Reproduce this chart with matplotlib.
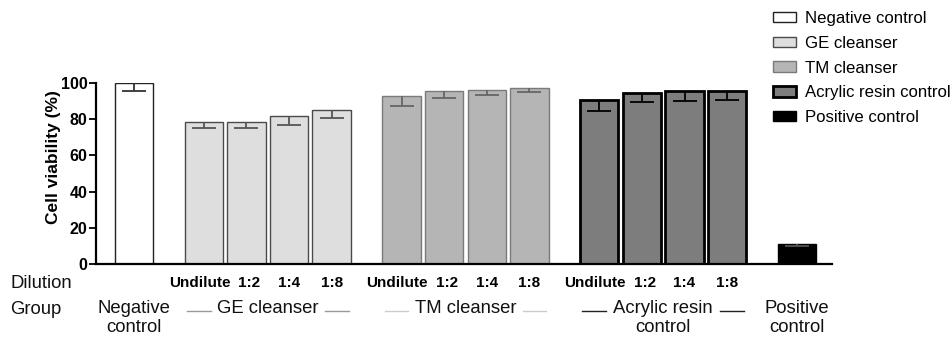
import matplotlib
matplotlib.use("Agg")
import matplotlib.pyplot as plt
from matplotlib.patches import Patch
from matplotlib.lines import Line2D
from matplotlib.transforms import blended_transform_factory

# data
groups = ["Negative control", "GE cleanser", "TM cleanser", "Acrylic resin control", "Positive control"]
dilutions = ["Undilute", "1:2", "1:4", "1:8"]
neg_val, neg_err = [100.0], [4.5]
ge_vals = [78.6, 78.6, 81.9, 84.9]
ge_errs = [3.6, 3.6, 5.3, 4.2]
tm_vals = [93.0, 95.4, 96.3, 97.0]
tm_errs = [5.5, 3.7, 2.8, 2.1]
ac_vals = [90.4, 94.5, 95.8, 95.4]
ac_errs = [5.7, 4.8, 5.6, 5.0]
pos_val, pos_err = [10.9], [0.8]

GAP = 1.64
plt.rcParams["font.family"] = ["Liberation Sans", "DejaVu Sans"]

fig = plt.figure(figsize=(9.52, 3.4), dpi=100)
ax = fig.add_axes([96 / 952, 1 - 264 / 340, (832 - 96) / 952, 181 / 340])

styles = [
    dict(fc="white", ec="#222222", lw=1.0, ecol="#333333"),
    dict(fc="#DEDEDE", ec="#4a4a4a", lw=1.0, ecol="#555555"),
    dict(fc="#B5B5B5", ec="#7a7a7a", lw=1.0, ecol="#666666"),
    dict(fc="#7D7D7D", ec="black", lw=2.0, ecol="black"),
    dict(fc="black", ec="black", lw=1.0, ecol="#555555"),
]
series = [(neg_val, neg_err), (ge_vals, ge_errs), (tm_vals, tm_errs), (ac_vals, ac_errs), (pos_val, pos_err)]

start = 0.0
centers = []
all_pos = []
for (vals, errs), st in zip(series, styles):
    xs = [start + i for i in range(len(vals))]
    all_pos.append(xs)
    ax.bar(xs, vals, width=0.9, color=st["fc"], edgecolor=st["ec"], linewidth=st["lw"], zorder=2)
    eb = ax.errorbar(xs, vals, yerr=[errs, [0] * len(errs)], fmt="none", ecolor=st["ecol"],
                     elinewidth=1.3, capsize=8.6, capthick=1.3, zorder=3)
    # lower-only error bars: hide the cap sitting on the bar top
    if len(eb[1]) > 1:
        eb[1][1].set_visible(False)
    centers.append((xs[0] + xs[-1]) / 2)
    start = xs[-1] + GAP

ax.set_xlim(-0.89, 16.38)
ax.set_ylim(0, 100)
ax.set_yticks([0, 20, 40, 60, 80, 100])
ax.set_xticks([])
for s in ["top", "right"]:
    ax.spines[s].set_visible(False)
ax.spines["left"].set_linewidth(1.6)
ax.spines["bottom"].set_linewidth(1.6)
ax.tick_params(axis="y", direction="out", length=5, width=1.3, labelsize=11.5, pad=1)
for lab in ax.get_yticklabels():
    lab.set_fontweight("bold")
ax.set_ylabel("Cell viability (%)", fontsize=12.5, fontweight="bold")
ax.yaxis.set_label_coords(-0.047, 0.59)

trans = blended_transform_factory(ax.transData, fig.transFigure)
y_dil = 1 - 283 / 340
y_line = 1 - 311 / 340

fig.text(10 / 952, y_dil, "Dilution", fontsize=13.3, va="center", ha="left", color="#111111")
fig.text(10 / 952, 1 - 309 / 340, "Group", fontsize=13.3, va="center", ha="left", color="#111111")

dil_shift = [-0.1, 0.07, 0.0, 0.0]
for xs in all_pos[1:4]:
    for x, d, sh in zip(xs, dilutions, dil_shift):
        ax.text(x + sh, y_dil, d, transform=trans, ha="center", va="center", fontsize=11, fontweight="bold")

grp_text = ["Negative\ncontrol", "GE cleanser", "TM cleanser", "Acrylic resin\ncontrol", "Positive\ncontrol"]
line_cols = [None, "#999999", "#cccccc", "#222222", None]
for c, t, lc in zip(centers, grp_text, line_cols):
    ax.text(c, 1 - 300 / 340, t, transform=trans, ha="center", va="top", fontsize=13.3,
            linespacing=1.15, color="#111111")
    if lc:
        for sgn in (-1, 1):
            mid = c + sgn * 1.62
            ax.add_line(Line2D([mid - 0.28, mid + 0.28], [y_line, y_line], transform=trans,
                               color=lc, lw=1.0, clip_on=False))

handles = [Patch(facecolor=st["fc"], edgecolor=st["ec"], linewidth=st["lw"]) for st in styles]
fig.legend(handles, groups, loc="upper left", bbox_to_anchor=(758 / 952, 1.012), frameon=False,
           fontsize=12.1, labelspacing=0.58, handlelength=1.35, handleheight=0.6, handletextpad=0.55)

fig.savefig("out.png", dpi=100)
